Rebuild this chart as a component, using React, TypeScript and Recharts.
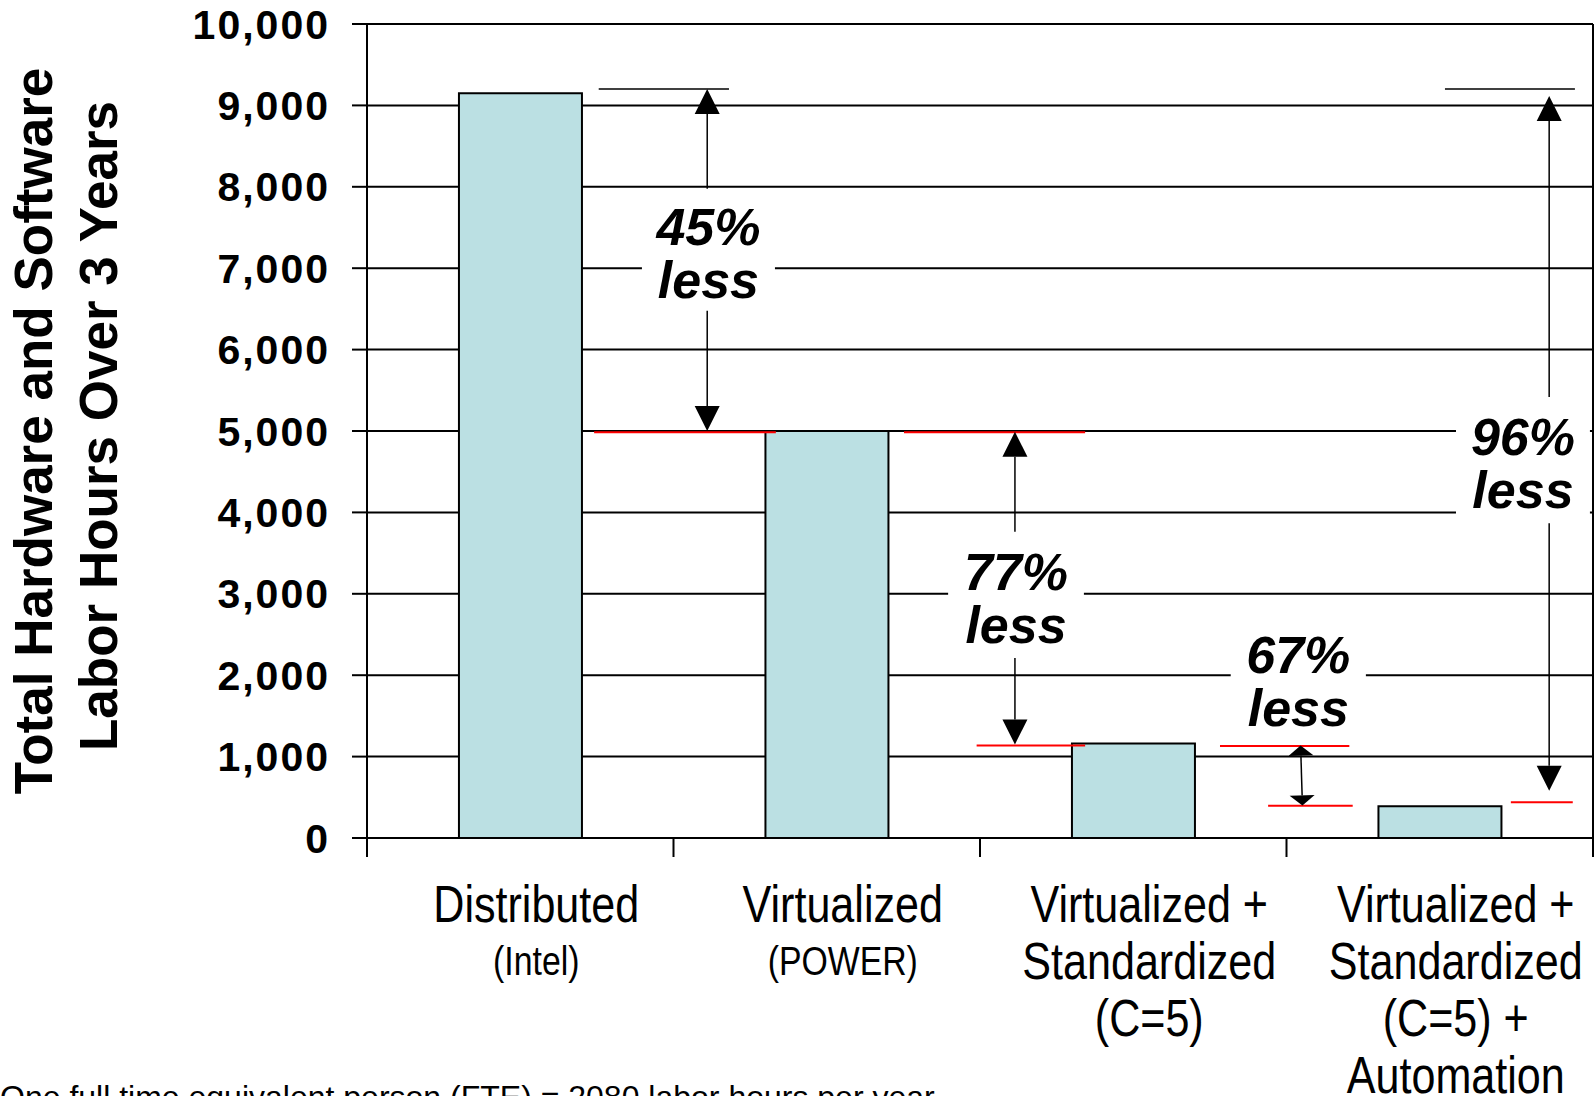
import React from "react";
import { BarChart, Bar, XAxis, YAxis, CartesianGrid, ReferenceLine, ReferenceArea } from "recharts";

const FONT = "'Liberation Sans', Arial, sans-serif";

// categories ("|" splits lines), sub captions and values
const categories = [
  "Distributed",
  "Virtualized",
  "Virtualized +|Standardized|(C=5)",
  "Virtualized +|Standardized|(C=5) +|Automation",
];
const subLabels = ["(Intel)", "(POWER)", "", ""];
const laborHours = [9150, 5000, 1160, 390];
const yTicks = [0, 1000, 2000, 3000, 4000, 5000, 6000, 7000, 8000, 9000, 10000];
// slot axis: 0..4 are category edges, .5 are category centres
const slotCenters = [0.5, 1.5, 2.5, 3.5];
const slotTicks = [0, 0.5, 1, 1.5, 2, 2.5, 3, 3.5, 4];

// annotations, x in slot units, y in hours
const blackMarks = [
  { x1: 0.756, x2: 1.181, y: 9200 },
  { x1: 3.517, x2: 3.941, y: 9200 },
];
const redMarks = [
  { x1: 0.741, x2: 1.334, y: 4985 },
  { x1: 1.752, x2: 2.343, y: 4985 },
  { x1: 1.989, x2: 2.343, y: 1135 },
  { x1: 2.783, x2: 3.205, y: 1130 },
  { x1: 2.94, x2: 3.216, y: 395 },
  { x1: 3.732, x2: 3.934, y: 440 },
];
const arrows = [
  { x1: 1.11, y1: 7975, x2: 1.11, y2: 9200, head: 25, both: false },
  { x1: 1.11, y1: 6478, x2: 1.11, y2: 5000, head: 25, both: false },
  { x1: 2.114, y1: 3763, x2: 2.114, y2: 4990, head: 25, both: false },
  { x1: 2.114, y1: 2211, x2: 2.114, y2: 1150, head: 25, both: false },
  { x1: 3.046, y1: 1135, x2: 3.052, y2: 400, head: 10, both: true },
  { x1: 3.857, y1: 5418, x2: 3.857, y2: 9115, head: 25, both: false },
  { x1: 3.857, y1: 3866, x2: 3.857, y2: 580, head: 25, both: false },
];
const callouts = [
  { x1: 0.897, x2: 1.331, y1: 6478, y2: 7975, top: "45%", bottom: "less" },
  { x1: 1.896, x2: 2.339, y1: 2211, y2: 3763, top: "77%", bottom: "less" },
  { x1: 2.818, x2: 3.259, y1: 1265, y2: 2678, top: "67%", bottom: "less" },
  { x1: 3.553, x2: 3.99, y1: 3870, y2: 5418, top: "96%", bottom: "less" },
];

const data = categories.map((name, i) => ({ name, slot: slotCenters[i], hours: laborHours[i] }));

const arrowShape = (head: number, both: boolean) => (p: any) => {
  const { x1, y1, x2, y2 } = p;
  const dx = x2 - x1;
  const dy = y2 - y1;
  const len = Math.hypot(dx, dy) || 1;
  const ux = dx / len;
  const uy = dy / len;
  const w = 12.5;
  const tri = (tx: number, ty: number, sx: number, sy: number) => {
    const bx = tx - sx * head;
    const by = ty - sy * head;
    return `${tx},${ty} ${bx - sy * w},${by + sx * w} ${bx + sy * w},${by - sx * w}`;
  };
  const sx = both ? x1 + ux * head : x1;
  const sy = both ? y1 + uy * head : y1;
  return (
    <g>
      <line x1={sx} y1={sy} x2={x2 - ux * head} y2={y2 - uy * head} stroke="#000" strokeWidth={1.5} />
      <polygon points={tri(x2, y2, ux, uy)} fill="#000" />
      {both && <polygon points={tri(x1, y1, -ux, -uy)} fill="#000" />}
    </g>
  );
};

const calloutLabel = (top: string, bottom: string) => (props: any) => {
  const vb = props.viewBox || {};
  const cx = vb.x + vb.width / 2;
  const cy = vb.y + vb.height / 2;
  return (
    <text textAnchor="middle" fontFamily={FONT} fontWeight="bold" fontStyle="italic" fontSize={52} fill="#000">
      <tspan x={cx} y={cy - 5}>{top}</tspan>
      <tspan x={cx} y={cy + 48}>{bottom}</tspan>
    </text>
  );
};

const YTick = (props: any) => {
  const { x, y, payload } = props;
  return (
    <text x={x} y={y} dy="0.355em" textAnchor="end" fontFamily={FONT} fontWeight="bold" fontSize={41} letterSpacing={2} fill="#000">
      {Number(payload.value).toLocaleString("en-US")}
    </text>
  );
};

const XTick = (props: any) => {
  const { x, y, payload } = props;
  const v = Number(payload.value);
  if (Number.isInteger(v)) {
    return <line x1={x} x2={x} y1={y} y2={y + 19} stroke="#000" strokeWidth={2} />;
  }
  const i = Math.floor(v);
  const lines = categories[i].split("|");
  return (
    <g transform={`translate(${x + 16},${y}) scale(0.845,1)`}>
      <text textAnchor="middle" fontFamily={FONT} fontSize={51} fill="#000">
        {lines.map((l, k) => (
          <tspan key={k} x={0} y={84 + k * 57}>{l}</tspan>
        ))}
      </text>
      {subLabels[i] && (
        <text x={0} y={137} textAnchor="middle" fontFamily={FONT} fontSize={40} fill="#000">
          {subLabels[i]}
        </text>
      )}
    </g>
  );
};

export default function App() {
  return (
    <div style={{ position: "absolute", left: 0, top: 0, width: 1596, height: 1096, overflow: "hidden", background: "#fff" }}>
      <BarChart width={1596} height={1096} data={data} margin={{ top: 24, right: 3, bottom: 0, left: 0 }} barCategoryGap="30%">
        <CartesianGrid xAxisId="cat" vertical={false} stroke="#000" strokeWidth={2} />
        <XAxis xAxisId="cat" dataKey="name" hide height={0} />
        <XAxis
          xAxisId="num"
          dataKey="slot"
          type="number"
          domain={[0, 4]}
          allowDataOverflow
          ticks={slotTicks}
          interval={0}
          height={258}
          tickSize={0}
          tickMargin={0}
          tickLine={false}
          axisLine={false}
          tick={XTick}
        />
        <YAxis
          width={367}
          domain={[0, 10000]}
          ticks={yTicks}
          interval={0}
          tickSize={15}
          tickMargin={22}
          tickLine={{ stroke: "#000", strokeWidth: 2 }}
          axisLine={{ stroke: "#000", strokeWidth: 2 }}
          tick={YTick}
        />
        <Bar xAxisId="cat" dataKey="hours" fill="#BBE0E3" stroke="#000" strokeWidth={2} isAnimationActive={false} />
        <ReferenceLine xAxisId="num" x={4} stroke="#000" strokeWidth={2} />
        {callouts.map((c, i) => (
          <ReferenceArea
            key={`c${i}`}
            xAxisId="num"
            x1={c.x1}
            x2={c.x2}
            y1={c.y1}
            y2={c.y2}
            fill="#fff"
            fillOpacity={1}
            stroke="none"
            label={calloutLabel(c.top, c.bottom)}
          />
        ))}
        {blackMarks.map((m, i) => (
          <ReferenceLine key={`b${i}`} xAxisId="num" segment={[{ x: m.x1, y: m.y }, { x: m.x2, y: m.y }]} stroke="#000" strokeWidth={1.5} />
        ))}
        {redMarks.map((m, i) => (
          <ReferenceLine key={`r${i}`} xAxisId="num" segment={[{ x: m.x1, y: m.y }, { x: m.x2, y: m.y }]} stroke="#FF0000" strokeWidth={2} />
        ))}
        {arrows.map((a, i) => (
          <ReferenceLine
            key={`a${i}`}
            xAxisId="num"
            segment={[{ x: a.x1, y: a.y1 }, { x: a.x2, y: a.y2 }]}
            shape={arrowShape(a.head, a.both)}
          />
        ))}
      </BarChart>
      <svg width={1596} height={1096} style={{ position: "absolute", left: 0, top: 0, pointerEvents: "none" }}>
        <text transform="translate(52,431) rotate(-90)" textAnchor="middle" fontFamily={FONT} fontWeight="bold" fontSize={53} fill="#000">
          Total Hardware and Software
        </text>
        <text transform="translate(117,426) rotate(-90)" textAnchor="middle" fontFamily={FONT} fontWeight="bold" fontSize={53} fill="#000">
          Labor Hours Over 3 Years
        </text>
        <text x={0} y={1108} fontFamily={FONT} fontSize={32} fill="#000">
          One full time equivalent person (FTE) = 2080 labor hours per year
        </text>
      </svg>
    </div>
  );
}
